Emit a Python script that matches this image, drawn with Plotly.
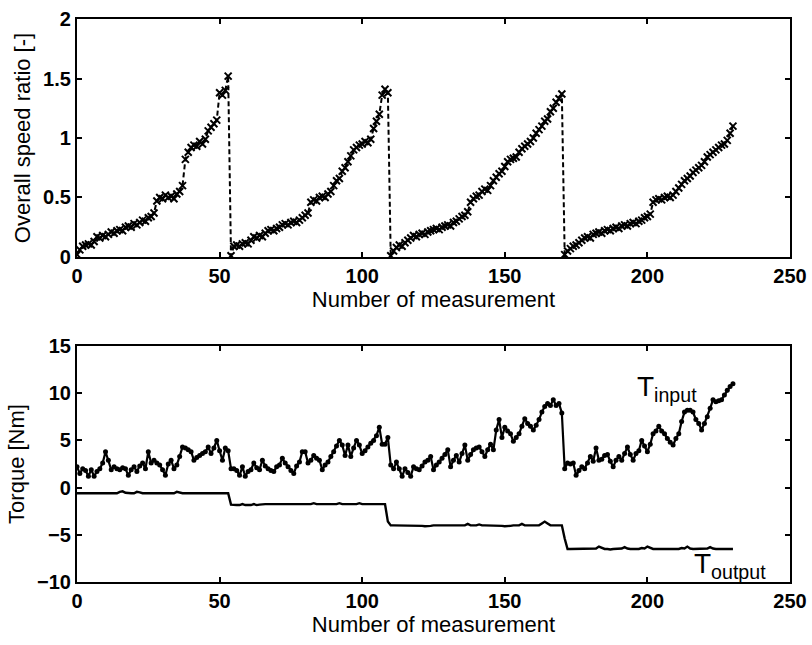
import plotly.graph_objects as go

# Measurement index (x)
measurement = list(range(0, 231))

# Overall speed ratio [-] (top panel)
speed_ratio = [
    0.02, 0.06, 0.09, 0.10, 0.11, 0.10, 0.13, 0.17, 0.16, 0.18,
    0.17, 0.19, 0.21, 0.20, 0.22, 0.23, 0.22, 0.25, 0.26, 0.25,
    0.28, 0.27, 0.29, 0.31, 0.30, 0.33, 0.34, 0.37, 0.47, 0.50,
    0.49, 0.52, 0.50, 0.51, 0.49, 0.53, 0.55, 0.60, 0.82, 0.88,
    0.92, 0.94, 0.93, 0.97, 0.95, 0.99, 1.06, 1.09, 1.12, 1.15,
    1.38, 1.36, 1.40, 1.52, 0.01, 0.09, 0.10, 0.09, 0.11, 0.12,
    0.11, 0.14, 0.17, 0.16, 0.18, 0.17, 0.20, 0.22, 0.23, 0.22,
    0.24, 0.25, 0.27, 0.28, 0.27, 0.29, 0.30, 0.29, 0.31, 0.33,
    0.35, 0.37, 0.46, 0.48, 0.47, 0.50, 0.51, 0.50, 0.53, 0.55,
    0.60, 0.64, 0.66, 0.72, 0.75, 0.80, 0.85, 0.90, 0.92, 0.94,
    0.95, 0.97, 0.96, 0.99, 1.08, 1.14, 1.20, 1.36, 1.41, 1.38,
    0.01, 0.05, 0.08, 0.10, 0.09, 0.12, 0.14, 0.16, 0.18, 0.17,
    0.19, 0.20, 0.19, 0.21, 0.22, 0.23, 0.24, 0.23, 0.25, 0.26,
    0.27, 0.26, 0.29, 0.30, 0.32, 0.34, 0.35, 0.38, 0.46, 0.49,
    0.51, 0.52, 0.55, 0.57, 0.56, 0.60, 0.64, 0.67, 0.70, 0.72,
    0.76, 0.80, 0.82, 0.83, 0.84, 0.88, 0.91, 0.93, 0.95, 0.97,
    1.00, 1.04, 1.07, 1.10, 1.14, 1.16, 1.22, 1.25, 1.30, 1.33,
    1.37, 0.02, 0.05, 0.07, 0.09, 0.10, 0.12, 0.14, 0.16, 0.17,
    0.16, 0.19, 0.20, 0.21, 0.20, 0.22, 0.23, 0.22, 0.24, 0.25,
    0.24, 0.26, 0.27, 0.26, 0.28, 0.29, 0.28, 0.30, 0.31, 0.33,
    0.34, 0.36, 0.46, 0.48, 0.49, 0.48, 0.50, 0.51, 0.50, 0.52,
    0.55, 0.58, 0.61, 0.64, 0.66, 0.68, 0.71, 0.73, 0.75, 0.77,
    0.80, 0.84, 0.86, 0.88, 0.90, 0.92, 0.94, 0.95, 0.98, 1.04,
    1.10,
]

# Input torque [Nm] (bottom panel)
torque_input = [
    2.2, 1.5, 2.0, 1.8, 1.2, 1.9, 1.2, 1.7, 2.0, 2.6,
    3.8, 2.9, 1.9, 2.2, 2.0, 1.9, 2.1, 2.0, 1.3, 1.9,
    2.2, 1.7, 2.3, 2.6, 2.0, 3.8, 2.6, 2.9, 2.6, 2.4,
    1.9, 1.3, 2.5, 2.9, 2.0, 2.4, 3.3, 4.3, 4.2, 4.0,
    3.8, 2.9, 3.2, 3.4, 3.6, 3.8, 4.3, 3.6, 4.2, 5.0,
    3.9, 2.9, 4.2, 3.9, 2.0, 2.0, 1.8, 1.3, 2.2, 1.2,
    1.7, 1.9, 2.6, 2.1, 1.9, 2.9, 2.3, 2.0, 1.8, 1.7,
    2.2, 2.4, 3.1, 2.6, 2.2, 1.8, 1.5, 2.3, 2.7, 3.8,
    3.8, 2.6, 2.9, 3.4, 3.1, 2.9, 1.9, 2.4, 2.7, 3.3,
    3.8, 4.4, 5.0, 4.5, 3.4, 4.5, 3.3, 4.2, 5.0, 4.5,
    3.6, 3.9, 4.3, 4.7, 5.0, 5.5, 6.4, 4.6, 4.6, 5.3,
    2.4, 2.0, 2.7, 2.0, 1.2, 2.0, 1.6, 1.2, 2.2, 2.0,
    1.9, 2.3, 2.7, 2.9, 3.3, 1.9, 2.4, 2.7, 3.1, 3.5,
    4.0, 2.2, 2.9, 3.4, 2.7, 3.6, 4.5, 2.9, 3.5, 4.0,
    4.2, 4.3, 3.8, 3.3, 4.0, 4.6, 4.0, 6.1, 7.2, 5.3,
    6.4, 6.0, 5.7, 4.9, 5.3, 5.7, 6.5, 7.3, 6.8, 6.5,
    6.1, 6.6, 7.2, 8.0, 8.6, 8.9, 8.7, 9.3, 8.7, 8.9,
    7.9, 2.0, 2.6, 2.5, 2.6, 1.3, 1.8, 2.2, 2.0, 2.6,
    3.3, 2.8, 4.2, 2.9, 3.0, 3.4, 3.5, 2.8, 2.2, 2.9,
    3.3, 2.9, 3.6, 4.3, 3.5, 2.9, 3.6, 3.9, 5.0, 4.4,
    3.8, 4.6, 5.7, 6.0, 6.5, 6.0, 5.7, 5.2, 4.8, 4.5,
    5.2, 5.7, 7.0, 8.0, 8.2, 8.2, 8.0, 7.2, 6.8, 6.1,
    6.8, 7.5, 8.4, 9.3, 9.1, 9.2, 9.3, 9.8, 10.3, 10.7,
    11.0,
]

# Output torque [Nm] (bottom panel)
torque_output = [
    -0.6, -0.6, -0.6, -0.6, -0.6, -0.6, -0.6, -0.6, -0.6, -0.6,
    -0.6, -0.6, -0.6, -0.6, -0.6, -0.45, -0.4, -0.55, -0.6, -0.6,
    -0.6, -0.45, -0.5, -0.6, -0.6, -0.6, -0.6, -0.6, -0.6, -0.6,
    -0.6, -0.6, -0.6, -0.6, -0.6, -0.45, -0.55, -0.6, -0.6, -0.6,
    -0.6, -0.6, -0.6, -0.6, -0.6, -0.6, -0.6, -0.6, -0.6, -0.6,
    -0.55, -0.6, -0.6, -0.6, -1.8, -1.85, -1.85, -1.85, -1.75, -1.85,
    -1.85, -1.85, -1.75, -1.85, -1.8, -1.75, -1.75, -1.75, -1.75, -1.75,
    -1.75, -1.75, -1.7, -1.75, -1.75, -1.75, -1.75, -1.75, -1.75, -1.75,
    -1.75, -1.75, -1.75, -1.65, -1.75, -1.75, -1.75, -1.75, -1.75, -1.75,
    -1.75, -1.75, -1.65, -1.75, -1.75, -1.75, -1.75, -1.75, -1.75, -1.65,
    -1.75, -1.75, -1.75, -1.75, -1.75, -1.7, -1.75, -1.75, -1.75, -3.6,
    -4.0, -4.0, -4.0, -4.0, -4.0, -4.0, -4.0, -4.0, -4.0, -4.0,
    -4.0, -4.05, -4.1, -4.1, -4.05, -4.0, -4.0, -4.0, -4.0, -4.0,
    -4.0, -4.0, -4.0, -4.0, -4.0, -4.0, -4.0, -3.85, -4.0, -4.0,
    -4.0, -3.9, -4.0, -4.0, -4.0, -4.0, -4.0, -4.0, -4.0, -4.05,
    -4.1, -4.1, -4.05, -4.0, -4.0, -4.0, -3.85, -4.0, -4.0, -4.0,
    -4.0, -4.0, -4.0, -3.8, -3.6, -3.8, -4.0, -4.0, -4.0, -4.0,
    -4.0, -5.4, -6.5, -6.5, -6.5, -6.5, -6.5, -6.5, -6.5, -6.5,
    -6.5, -6.5, -6.45, -6.25, -6.4, -6.5, -6.5, -6.55, -6.5, -6.5,
    -6.5, -6.45, -6.3, -6.45, -6.5, -6.5, -6.5, -6.5, -6.4, -6.45,
    -6.25, -6.4, -6.5, -6.5, -6.5, -6.5, -6.5, -6.5, -6.5, -6.5,
    -6.5, -6.5, -6.4, -6.45, -6.25, -6.45, -6.5, -6.5, -6.5, -6.5,
    -6.5, -6.45, -6.3, -6.45, -6.5, -6.5, -6.5, -6.5, -6.5, -6.5,
    -6.5,
]

x_ticks = [0, 50, 100, 150, 200, 250]
top_y_ticks = [0, 0.5, 1, 1.5, 2]
top_y_labels = ["0", "0.5", "1", "1.5", "2"]
bottom_y_ticks = [-10, -5, 0, 5, 10, 15]

FONT = "Liberation Sans"

fig = go.Figure()

fig.add_trace(go.Scatter(
    x=measurement, y=speed_ratio, mode="lines+markers",
    line=dict(color="black", width=2, dash="5px,3px"),
    marker=dict(symbol="x-thin", size=7, color="black",
                line=dict(width=2, color="black")),
    xaxis="x", yaxis="y", showlegend=False,
))

fig.add_trace(go.Scatter(
    x=measurement, y=torque_input, mode="lines+markers",
    line=dict(color="black", width=2.2),
    marker=dict(symbol="circle", size=5, color="black"),
    xaxis="x2", yaxis="y2", showlegend=False,
))

fig.add_trace(go.Scatter(
    x=measurement, y=torque_output, mode="lines",
    line=dict(color="black", width=2.4),
    xaxis="x2", yaxis="y2", showlegend=False,
))

axis_common = dict(
    showline=True, linecolor="black", linewidth=2.2, mirror="ticks",
    ticks="inside", ticklen=5, tickwidth=1.8, tickcolor="black",
    showgrid=False, zeroline=False, automargin=False,
    tickfont=dict(family=FONT, size=20, color="black", weight="bold"),
)
title_font = dict(family=FONT, size=22, color="black")

fig.update_layout(
    width=812, height=645,
    margin=dict(l=77, r=22, t=19, b=63),
    paper_bgcolor="white", plot_bgcolor="white",
    xaxis=dict(axis_common, domain=[0, 1], anchor="y", range=[0, 250],
               tickvals=x_ticks,
               title=dict(text="Number of measurement", font=title_font, standoff=4)),
    yaxis=dict(axis_common, domain=[0.5773, 1], anchor="x", range=[0, 2],
               tickvals=top_y_ticks, ticktext=top_y_labels,
               title=dict(text="Overall speed ratio [-]", font=title_font, standoff=6)),
    xaxis2=dict(axis_common, domain=[0, 1], anchor="y2", range=[0, 250],
                tickvals=x_ticks,
                title=dict(text="Number of measurement", font=title_font, standoff=4)),
    yaxis2=dict(axis_common, domain=[0, 0.4192], anchor="x2", range=[-10, 15],
                tickvals=bottom_y_ticks,
                title=dict(text="Torque [Nm]", font=title_font, standoff=6)),
    annotations=[
        dict(x=195.5, y=10.5, xref="x2", yref="y2", text="T<sub>input</sub>",
             showarrow=False, xanchor="left", yanchor="middle",
             font=dict(family=FONT, size=28, color="black")),
        dict(x=215.5, y=-8.3, xref="x2", yref="y2", text="T<sub>output</sub>",
             showarrow=False, xanchor="left", yanchor="middle",
             font=dict(family=FONT, size=28, color="black")),
    ],
)

fig.write_html(
    "out.html",
    config={"displayModeBar": False},
    post_script="document.body.style.margin='0px';document.body.style.overflow='hidden';",
)
